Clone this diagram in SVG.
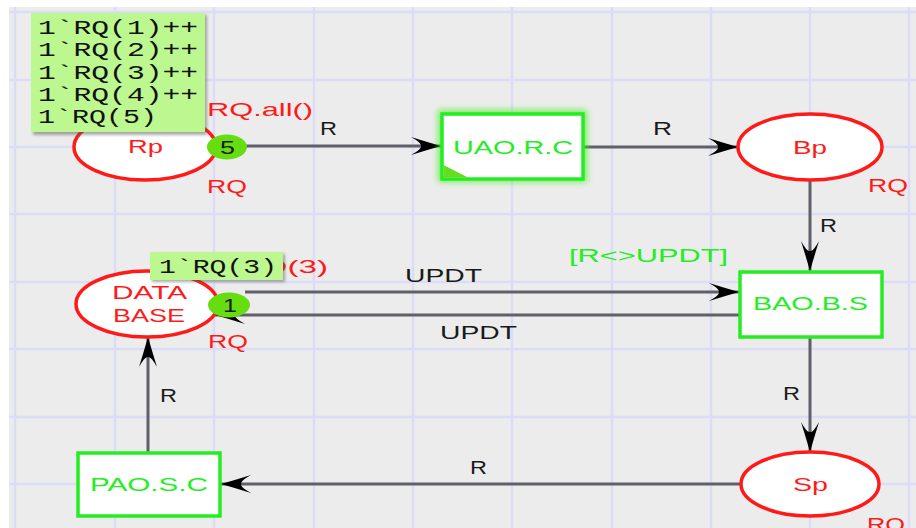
<svg xmlns="http://www.w3.org/2000/svg" width="916" height="528" viewBox="0 0 916 528">
<style>
.grid line{stroke:#dcdcf6;stroke-width:2.5}
.place{fill:#ffffff;stroke:#ff1a1a;stroke-width:3.5}
.trans{fill:#ffffff;stroke:#22ee22;stroke-width:3.5}
.arc{stroke:#606068;stroke-width:3;fill:none}
.lbl{font-family:"Liberation Sans",Arial,sans-serif;font-size:19px}
.red{fill:#ff1a1a}
.grn{fill:#22ee22}
.blk{fill:#1a1a1a}
.tok{fill:#66dd11}
.tip{fill:#bcf78f}
.mono{font-family:"Liberation Mono","DejaVu Sans Mono",monospace;font-size:20px;fill:#111}
</style>
<defs>
<marker id="ah" markerUnits="userSpaceOnUse" markerWidth="32" markerHeight="20" refX="30" refY="10" orient="auto">
<path d="M0,1 Q16,6 30,10 Q16,14 0,19 Q11,13 10,10 Q11,7 0,1 Z" fill="#000"/>
</marker>
<filter id="glow" x="-20%" y="-30%" width="140%" height="160%"><feGaussianBlur stdDeviation="3"/></filter>
<filter id="sh" x="-10%" y="-10%" width="130%" height="130%"><feGaussianBlur stdDeviation="1.5"/></filter>
</defs>
<rect x="0" y="0" width="916" height="528" fill="#ffffff"/>
<rect x="9" y="7" width="907" height="521" fill="#ececec"/>
<g class="grid">
<line x1="9" y1="12" x2="916" y2="12"/><line x1="9" y1="80" x2="916" y2="80"/><line x1="9" y1="147" x2="916" y2="147"/><line x1="9" y1="214" x2="916" y2="214"/><line x1="9" y1="282" x2="916" y2="282"/><line x1="9" y1="349" x2="916" y2="349"/><line x1="9" y1="417" x2="916" y2="417"/><line x1="9" y1="484" x2="916" y2="484"/>
<line x1="15" y1="7" x2="15" y2="528"/><line x1="115" y1="7" x2="115" y2="528"/><line x1="214" y1="7" x2="214" y2="528"/><line x1="314" y1="7" x2="314" y2="528"/><line x1="413" y1="7" x2="413" y2="528"/><line x1="512" y1="7" x2="512" y2="528"/><line x1="612" y1="7" x2="612" y2="528"/><line x1="711" y1="7" x2="711" y2="528"/><line x1="810" y1="7" x2="810" y2="528"/><line x1="909" y1="7" x2="909" y2="528"/>
</g>
<g id="connectors">
<line class="arc" x1="245" y1="146" x2="441" y2="146" marker-end="url(#ah)"/>
<text class="lbl blk" x="320" y="135" textLength="17" lengthAdjust="spacingAndGlyphs">R</text>
<line class="arc" x1="584" y1="147" x2="738" y2="147" marker-end="url(#ah)"/>
<text class="lbl blk" x="653" y="135" textLength="19" lengthAdjust="spacingAndGlyphs">R</text>
<line class="arc" x1="810" y1="180" x2="810" y2="271" marker-end="url(#ah)"/>
<text class="lbl blk" x="820" y="232" textLength="17" lengthAdjust="spacingAndGlyphs">R</text>
<line class="arc" x1="245" y1="292" x2="739" y2="292" marker-end="url(#ah)"/>
<text class="lbl blk" x="405" y="282" textLength="77" lengthAdjust="spacingAndGlyphs">UPDT</text>
<line class="arc" x1="739" y1="315" x2="215" y2="315" marker-end="url(#ah)"/>
<text class="lbl blk" x="440" y="339" textLength="77" lengthAdjust="spacingAndGlyphs">UPDT</text>
<text class="lbl grn" x="569" y="262" textLength="159" lengthAdjust="spacingAndGlyphs">[R&lt;&gt;UPDT]</text>
<line class="arc" x1="810" y1="337" x2="810" y2="452" marker-end="url(#ah)"/>
<text class="lbl blk" x="783" y="400" textLength="17" lengthAdjust="spacingAndGlyphs">R</text>
<line class="arc" x1="741" y1="484" x2="221" y2="484" marker-end="url(#ah)"/>
<text class="lbl blk" x="470" y="474" textLength="17" lengthAdjust="spacingAndGlyphs">R</text>
<line class="arc" x1="148" y1="452" x2="148" y2="337" marker-end="url(#ah)"/>
<text class="lbl blk" x="160" y="402" textLength="17" lengthAdjust="spacingAndGlyphs">R</text>
</g>
<g id="Rp">
<ellipse class="place" cx="145" cy="147" rx="71" ry="33"/>
<text class="lbl red" x="128" y="153" textLength="35" lengthAdjust="spacingAndGlyphs">Rp</text>
<text class="lbl red" x="207" y="116" textLength="106" lengthAdjust="spacingAndGlyphs">RQ.all()</text>
<text class="lbl red" x="207" y="193" textLength="40" lengthAdjust="spacingAndGlyphs">RQ</text>
</g>
<g id="UAO.R.C">
<rect x="438" y="110" width="149" height="72" fill="#44ee22" opacity="0.7" filter="url(#glow)"/>
<rect class="trans" x="442" y="114" width="141" height="65"/>
<path d="M443.5,165 L443.5,177.5 L468,177.5 Z" fill="#66dd22"/>
<text class="lbl grn" x="453" y="154" textLength="120" lengthAdjust="spacingAndGlyphs">UAO.R.C</text>
</g>
<g id="Bp">
<ellipse class="place" cx="810" cy="147" rx="72" ry="33"/>
<text class="lbl red" x="793" y="154" textLength="34" lengthAdjust="spacingAndGlyphs">Bp</text>
<text class="lbl red" x="868" y="192" textLength="40" lengthAdjust="spacingAndGlyphs">RQ</text>
</g>
<g id="BAO.B.S">
<rect class="trans" x="740" y="272" width="142" height="65"/>
<text class="lbl grn" x="753" y="310" textLength="115" lengthAdjust="spacingAndGlyphs">BAO.B.S</text>
</g>
<g id="DATABASE">
<ellipse class="place" cx="147" cy="304" rx="71" ry="33"/>
<text class="lbl red" x="112" y="299" textLength="75" lengthAdjust="spacingAndGlyphs">DATA</text>
<text class="lbl red" x="113" y="322" textLength="72" lengthAdjust="spacingAndGlyphs">BASE</text>
<text class="lbl red" x="208" y="348" textLength="40" lengthAdjust="spacingAndGlyphs">RQ</text>
<text class="lbl red" x="208" y="273" textLength="120" lengthAdjust="spacingAndGlyphs">1`RQ(3)</text>
</g>
<g id="PAO.S.C">
<rect class="trans" x="78" y="453" width="142" height="63"/>
<text class="lbl grn" x="90" y="491" textLength="118" lengthAdjust="spacingAndGlyphs">PAO.S.C</text>
</g>
<g id="Sp">
<ellipse class="place" cx="810" cy="484" rx="69" ry="32"/>
<text class="lbl red" x="793" y="491" textLength="35" lengthAdjust="spacingAndGlyphs">Sp</text>
<text class="lbl red" x="867" y="531" textLength="38" lengthAdjust="spacingAndGlyphs">RQ</text>
</g>
<g id="tokens">
<ellipse class="tok" cx="227" cy="147" rx="20" ry="12.5"/>
<text class="lbl blk" x="220" y="154" font-size="20" textLength="15" lengthAdjust="spacingAndGlyphs">5</text>
<ellipse class="tok" cx="229" cy="305" rx="21" ry="12.5"/>
<text class="lbl blk" x="223" y="312" font-size="20" textLength="14" lengthAdjust="spacingAndGlyphs">1</text>
</g>
<g id="tooltips">
<rect x="33" y="15" width="174" height="120" fill="#555" opacity="0.5" filter="url(#sh)"/>
<rect class="tip" x="31" y="13" width="174" height="119"/>
<text class="mono" x="38" y="34" textLength="160" lengthAdjust="spacingAndGlyphs">1`RQ(1)++</text>
<text class="mono" x="38" y="56" textLength="160" lengthAdjust="spacingAndGlyphs">1`RQ(2)++</text>
<text class="mono" x="38" y="79" textLength="160" lengthAdjust="spacingAndGlyphs">1`RQ(3)++</text>
<text class="mono" x="38" y="101" textLength="160" lengthAdjust="spacingAndGlyphs">1`RQ(4)++</text>
<text class="mono" x="38" y="123" textLength="119" lengthAdjust="spacingAndGlyphs">1`RQ(5)</text>
<rect x="152" y="254" width="133" height="28" fill="#555" opacity="0.5" filter="url(#sh)"/>
<rect class="tip" x="150" y="252" width="133" height="28"/>
<text class="mono" x="159" y="273" textLength="118" lengthAdjust="spacingAndGlyphs">1`RQ(3)</text>
</g>
</svg>
